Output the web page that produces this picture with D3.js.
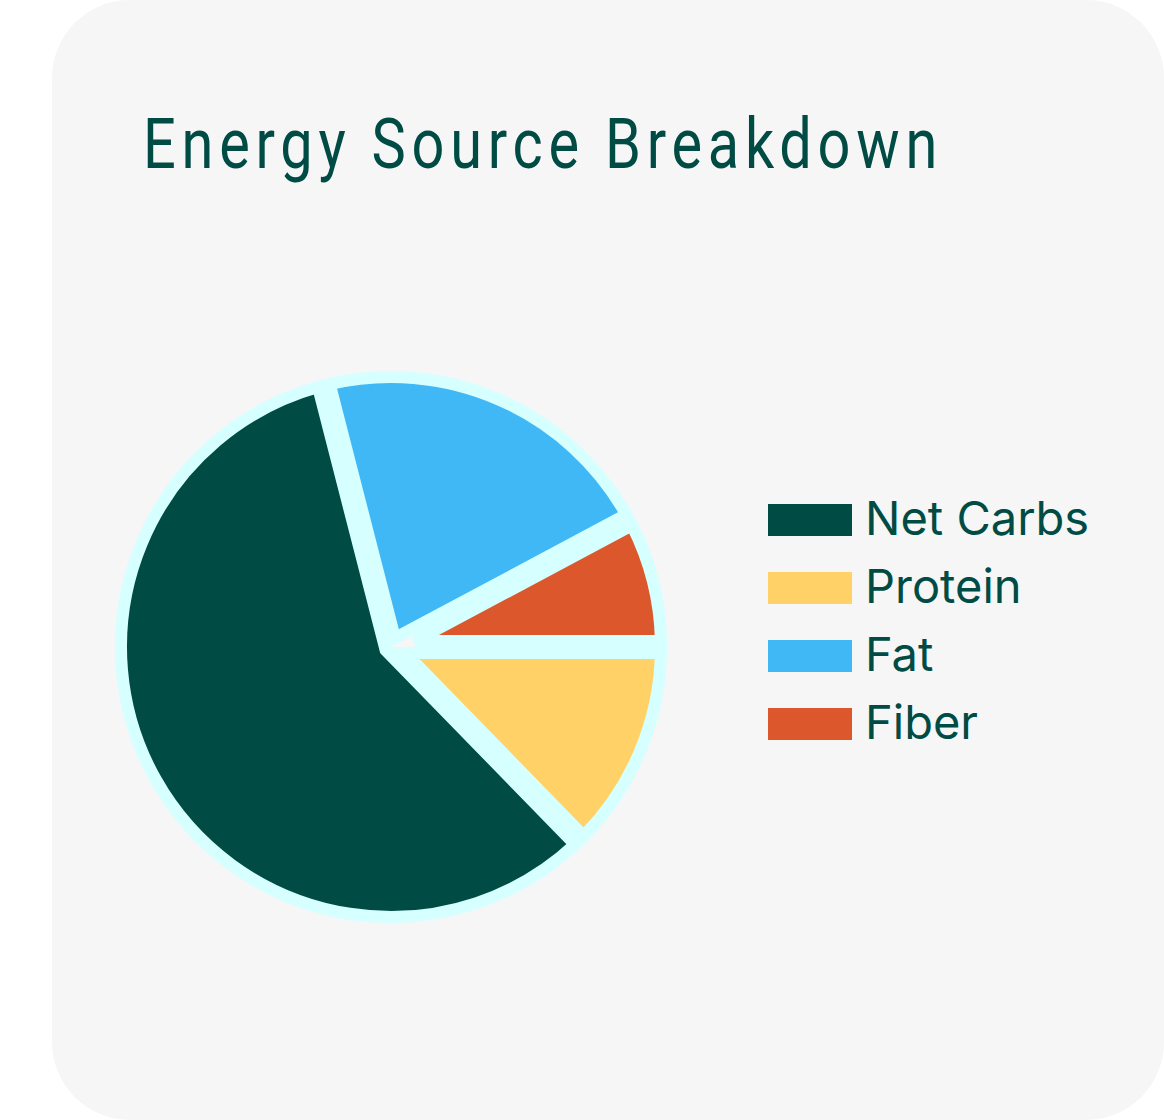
<!DOCTYPE html>
<html>
<head>
<meta charset="utf-8">
<script src="https://cdn.jsdelivr.net/npm/d3@7"></script>
<style>
  body { margin: 0; background: #fff; }
</style>
</head>
<body>
<svg id="chart" width="1164" height="1120"></svg>
<script>
// legend order
const categories = ['Net Carbs', 'Protein', 'Fat', 'Fiber']
const shares     = [58.3, 12.7, 21.2, 7.8]
const colors     = ['#004c45', '#ffd166', '#40b8f6', '#dc582c']
// order of slices going clockwise from 3 o'clock
const pieOrder   = ['Protein', 'Net Carbs', 'Fat', 'Fiber']

const textColor = '#004c45'
const gapColor  = '#d6ffff'

var svg = d3.select('#chart')

// card
svg.append('rect')
  .attr('x', 52).attr('y', 0)
  .attr('width', 1112).attr('height', 1120)
  .attr('rx', 78).attr('ry', 78)
  .attr('fill', '#f6f6f6')

svg.append('text')
  .attr('x', 143).attr('y', 168)
  .attr('font-family', 'Roboto, sans-serif')
  .attr('font-weight', 400)
  .attr('font-size', 70)
  .attr('letter-spacing', 7)
  .attr('textLength', 800)
  .attr('lengthAdjust', 'spacingAndGlyphs')
  .attr('fill', textColor)
  .text('Energy Source Breakdown')

const color = d3.scaleOrdinal().domain(categories).range(colors)

const pieData = pieOrder.map(name => ({ name: name, value: shares[categories.indexOf(name)] }))
const arcs = d3.pie()
  .sort(null)
  .value(d => d.value)
  .startAngle(Math.PI / 2)
  .endAngle(Math.PI / 2 + 2 * Math.PI)(pieData)

const R = 270, pad = 6

// sector with parallel gaps: edges shifted inward by pad
function slicePath(a) {
  const half = (a.endAngle - a.startAngle) / 2
  const mid = a.startAngle + half
  const dist = pad / Math.sin(half)
  const delta = Math.asin(pad / R)
  const p = d3.path()
  p.moveTo(dist * Math.sin(mid), -dist * Math.cos(mid))
  p.arc(0, 0, R, a.startAngle + delta - Math.PI / 2, a.endAngle - delta - Math.PI / 2)
  p.closePath()
  return p.toString()
}

var g = svg.append('g').attr('transform', 'translate(391,647)')
g.selectAll('path')
  .data(arcs)
  .enter().append('path')
  .attr('d', slicePath)
  .attr('fill', d => color(d.data.name))
  .attr('stroke', gapColor)
  .attr('stroke-width', 12)
  .attr('stroke-linejoin', 'miter')

// legend
var legend = svg.append('g').attr('transform', 'translate(768,504)')
var item = legend.selectAll('g')
  .data(categories)
  .enter().append('g')
  .attr('transform', (d, i) => `translate(0,${i * 68})`)
item.append('rect')
  .attr('width', 84).attr('height', 32)
  .attr('fill', d => color(d))
item.append('text')
  .attr('x', 97).attr('y', 31)
  .attr('font-family', 'Inter, sans-serif')
  .attr('font-size', 47)
  .attr('fill', textColor)
  .text(d => d)
</script>
</body>
</html>
